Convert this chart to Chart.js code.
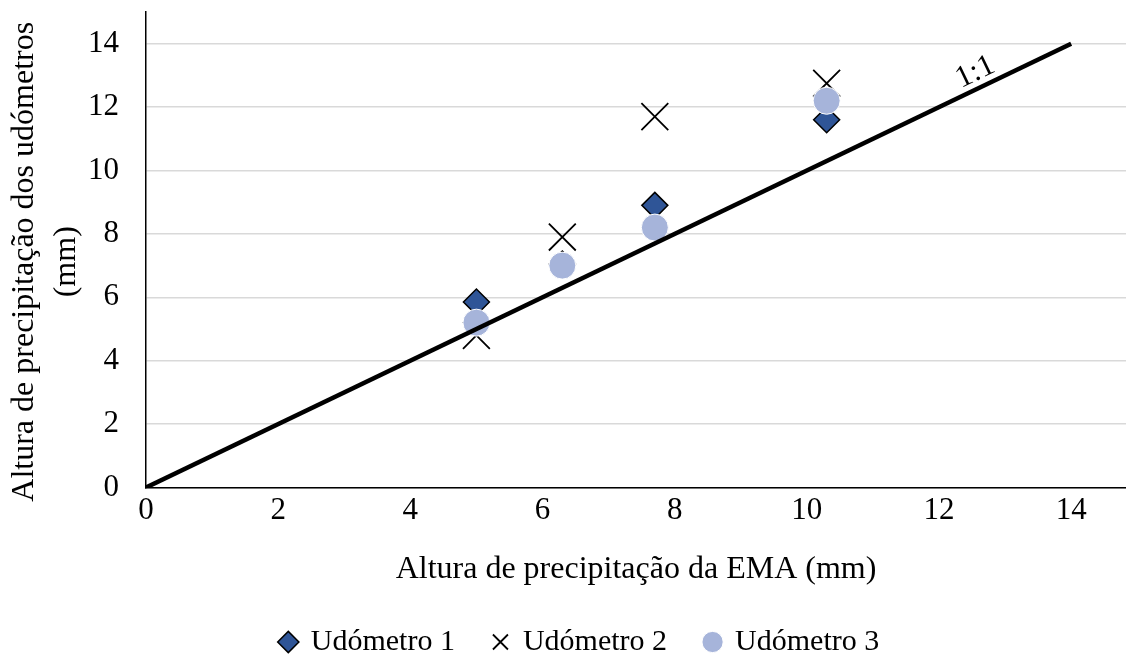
<!DOCTYPE html>
<html><head><meta charset="utf-8">
<script src="https://cdn.jsdelivr.net/npm/chart.js@4.4.0/dist/chart.umd.min.js"></script>
<style>html,body{margin:0;padding:0;background:#fff;} #wrap{width:1126px;height:659px;}</style>
</head><body><div id="wrap"><canvas id="c" width="1126" height="659"></canvas></div>
<script>
const emaX = [5.0, 6.3, 7.7, 10.3];
const udometro1 = [5.85, 7.05, 8.9, 11.6];
const udometro2 = [4.8, 7.9, 11.7, 12.75];
const udometro3 = [5.2, 7.0, 8.2, 12.2];
const lineX = [0, 14];
const lineY = [0, 14];
const xTicks = [0, 2, 4, 6, 8, 10, 12, 14];
const yTicks = [0, 2, 4, 6, 8, 10, 12, 14];
const seriesNames = ['Udómetro 1', 'Udómetro 2', 'Udómetro 3'];
const lineLabel = '1:1';
const lineLabelAt = {x: 12.55, y: 13.1};
const xTitle = 'Altura de precipitação da EMA (mm)';
const yTitle = ['Altura de precipitação dos udómetros', '(mm)'];

const FONT = 'Liberation Serif';
const toPts = (xs, ys) => xs.map((x, i) => ({x: x, y: ys[i]}));

const labelPlugin = {
  id: 'lineLabel',
  afterLayout(chart) {
    const lg = chart.legend;
    if (lg) { lg.left += 17; lg.right += 17; }
  },
  afterDatasetsDraw(chart) {
    const xs = chart.scales.x, ys = chart.scales.y, ctx = chart.ctx;
    const x0 = xs.getPixelForValue(lineX[0]), y0 = ys.getPixelForValue(lineY[0]);
    const x1 = xs.getPixelForValue(lineX[1]), y1 = ys.getPixelForValue(lineY[1]);
    const ang = Math.atan2(y1 - y0, x1 - x0);
    const px = xs.getPixelForValue(lineLabelAt.x), py = ys.getPixelForValue(lineLabelAt.y);
    ctx.save();
    ctx.translate(px, py);
    ctx.rotate(ang);
    ctx.font = '31px "' + FONT + '"';
    ctx.fillStyle = '#000';
    ctx.textAlign = 'center';
    ctx.textBaseline = 'middle';
    ctx.fillText(lineLabel, 0, 0);
    ctx.restore();
  },
  afterDraw(chart) {
    const ctx = chart.ctx, ca = chart.chartArea;
    const cy = (ca.top + ca.bottom) / 2 + 12;
    ctx.save();
    ctx.font = '32px "' + FONT + '"';
    ctx.fillStyle = '#000';
    ctx.textAlign = 'center';
    ctx.textBaseline = 'middle';
    yTitle.forEach((t, i) => {
      ctx.save();
      ctx.translate(25 + i * 42, cy);
      ctx.rotate(-Math.PI / 2);
      ctx.fillText(t, 0, 0);
      ctx.restore();
    });
    ctx.restore();
  }
};

const keepTicks = (list) => (scale) => {
  scale.ticks = list.map(v => ({value: v}));
};
const noPad = (s) => { s.paddingTop = 0; s.paddingBottom = 0; s.paddingLeft = 0; s.paddingRight = 0; };

new Chart(document.getElementById('c'), {
  type: 'scatter',
  data: {
    datasets: [
      {label: seriesNames[0], data: toPts(emaX, udometro1), pointStyle: 'rectRot', pointRadius: 13, pointHoverRadius: 13,
       backgroundColor: '#2F5597', borderColor: '#000', borderWidth: 1.5, order: 3},
      {label: seriesNames[1], data: toPts(emaX, udometro2), pointStyle: 'crossRot', pointRadius: 19, pointHoverRadius: 19,
       backgroundColor: '#000', borderColor: '#000', borderWidth: 1.8, order: 2},
      {label: seriesNames[2], data: toPts(emaX, udometro3), pointStyle: 'circle', pointRadius: 13.5, pointHoverRadius: 13.5,
       backgroundColor: '#A6B4DA', borderColor: '#fff', borderWidth: 1, order: 1},
      {label: lineLabel, data: toPts(lineX, lineY), showLine: true, pointRadius: 0, borderColor: '#000', borderWidth: 4.5,
       backgroundColor: '#000', order: 0}
    ]
  },
  options: {
    responsive: false,
    animation: false,
    layout: {autoPadding: false, padding: {top: 12, right: 0, left: 0, bottom: -8}},
    plugins: {
      tooltip: {enabled: false},
      legend: {
        position: 'bottom',
        labels: {
          usePointStyle: true, boxWidth: 15, boxHeight: 15, padding: 38,
          color: '#000', font: {family: FONT, size: 30},
          filter: (item) => item.datasetIndex < 3,
          sort: (a, b) => a.datasetIndex - b.datasetIndex
        }
      }
    },
    scales: {
      x: {
        type: 'linear', min: 0, max: 14.83,
        afterBuildTicks: keepTicks(xTicks),
        afterFit: (s) => { noPad(s); s.height = 101.5; },
        grid: {display: false, drawTicks: false},
        border: {display: true, color: '#000', width: 1.5},
        ticks: {color: '#000', font: {family: FONT, size: 31}, padding: 5, maxRotation: 0, autoSkip: false},
        title: {display: true, text: xTitle, color: '#000', font: {family: FONT, size: 32}, padding: {top: 24, bottom: 0}}
      },
      y: {
        type: 'linear', min: 0, max: 15,
        afterBuildTicks: keepTicks(yTicks),
        afterFit: (s) => { noPad(s); s.width = 146; },
        grid: {color: '#D9D9D9', lineWidth: 1.5, drawTicks: false},
        border: {display: true, color: '#000', width: 1.5},
        ticks: {color: '#000', font: {family: FONT, size: 31}, padding: 27, autoSkip: false},
        title: {display: false}
      }
    }
  },
  plugins: [labelPlugin]
});
</script>
</body></html>
